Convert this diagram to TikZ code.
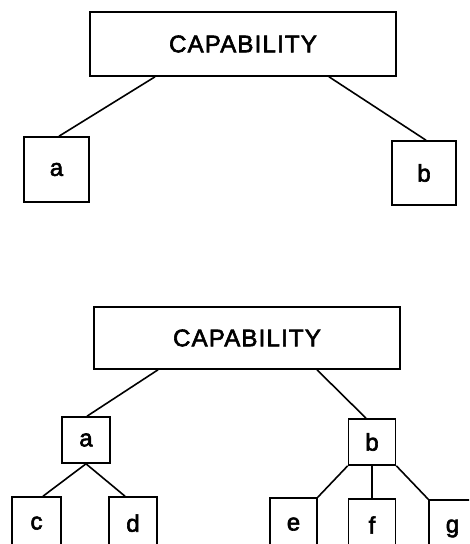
\documentclass[tikz,border=0pt]{standalone}
\usepackage{fontspec}
\setmainfont{Liberation Sans}[BoldFont=Liberation Sans,BoldFeatures={FakeBold=2.5}]
\newcommand{\captext}{\addfontfeatures{LetterSpace=5}CAPABILITY}
\begin{document}
\begin{tikzpicture}[x=1pt,y=-1pt,
  box/.style={draw,line width=1.6pt,inner sep=0pt,font=\fontsize{24}{28}\selectfont\bfseries},
  capbox/.style={box,minimum width=306pt},
  conn/.style={line width=1.6pt}]
\useasboundingbox (0,0) rectangle (469,544);
\clip (0,0) rectangle (469,544);
% upper tree
\node[capbox,minimum height=64pt] (cap1) at (243,44) {\captext};
\node[box,minimum width=65pt,minimum height=65pt] (a1) at (56.5,169.5) {a};
\node[box,minimum width=64pt,minimum height=64pt] (b1) at (424,173) {b};
\draw[conn] ([xshift=-88pt]cap1.south) -- ([xshift=2.5pt]a1.north);
\draw[conn] ([xshift=86pt]cap1.south) -- ([xshift=2pt]b1.north);
% lower tree
\node[capbox,minimum height=62pt] (cap2) at (247,338) {\captext};
\node[box,minimum width=48pt,minimum height=46pt] (a2) at (86,440) {a};
\node[box,minimum width=47pt,minimum height=46pt] (b2) at (372,442) {b};
\draw[conn] ([xshift=-89pt]cap2.south) -- ([xshift=1pt]a2.north);
\draw[conn] ([xshift=70pt]cap2.south) -- ([xshift=-6pt]b2.north);
\node[box,minimum width=49pt,minimum height=60pt] (c) at (36.5,527) {\raisebox{8pt}{c}};
\node[box,minimum width=48pt,minimum height=60pt] (d) at (133,527) {\raisebox{8pt}{d}};
\node[box,minimum width=47pt,minimum height=60pt] (e) at (293.5,528) {\raisebox{8pt}{e}};
\node[box,minimum width=47pt,minimum height=60pt] (f) at (372,529) {\raisebox{8pt}{f}};
\node[box,minimum width=47pt,minimum height=60pt] (g) at (452.5,530) {\raisebox{8pt}{g}};
\draw[conn] (a2.south) -- ([xshift=6.5pt]c.north);
\draw[conn] (a2.south) -- ([xshift=-8pt]d.north);
\draw[conn] (b2.south west) -- (e.north east);
\draw[conn] (b2.south) -- (f.north);
\draw[conn] (b2.south east) -- (g.north west);
\end{tikzpicture}
\end{document}
